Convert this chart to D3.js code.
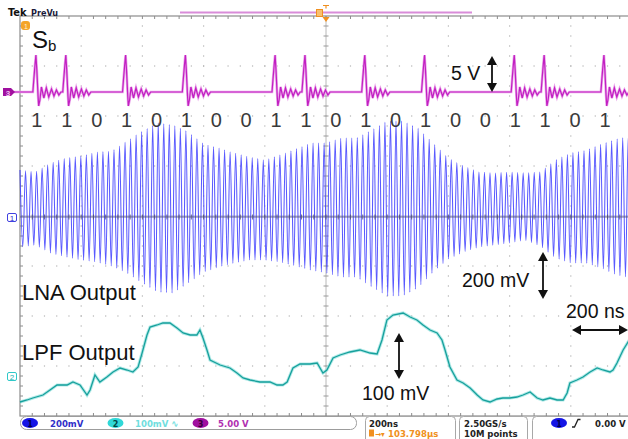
<!DOCTYPE html>
<html lang="en">
<head>
<meta charset="utf-8">
<title>Scope capture: Sb, LNA and LPF outputs</title>
<script src="https://cdn.jsdelivr.net/npm/d3@7"></script>
<style>
  html, body { margin: 0; padding: 0; background: #fff; }
  svg { display: block; font-family: "Liberation Sans", Arial, sans-serif; }
</style>
</head>
<body>
<script>
// bit pattern on Sb (channel 3)
var bits = [1, 1, 0, 1, 0, 1, 0, 0, 1, 1, 0, 1, 0, 1, 0, 0, 1, 1, 0, 1];
var bitStart = 52;      // ns, first bit
var bitPeriod = 97.7;   // ns

// Sb pulse shape around every "1" (ns from the peak, volts)
var pulseT = [-10, -7, -3, 0, 3, 7, 9, 13, 18, 26, 34, 42, 51, 59, 67, 75, 82];
var pulseV = [0, 1.2, 2.7, 3.7, 2.2, -0.4, -1.4, -0.8, 0.5, -0.6, 0.4, -0.5, 0.3, -0.4, 0.2, -0.3, 0];

// LNA output (channel 1): envelope every 50 ns, mV
var envT = d3.range(0, 2001, 50);
var lnaTop = [188, 180, 216, 236, 244, 260, 264, 304, 344, 376, 368, 340, 292, 276, 256, 240, 228, 248, 272, 296, 296,
              316, 316, 348, 384, 384, 356, 296, 236, 204, 180, 176, 180, 176, 180, 228, 256, 268, 292, 312, 324];
var lnaBot = [-120, -112, -144, -160, -172, -180, -196, -224, -264, -300, -304, -264, -220, -200, -184, -172, -172, -180, -196, -212, -224,
              -240, -240, -280, -316, -316, -284, -220, -168, -140, -120, -112, -104, -92, -116, -164, -184, -184, -204, -232, -244];
var carrierPeriod = 18.07; // ns

// LPF output (channel 2): ns, mV
var lpfT = [0, 23, 42, 75, 98, 121, 154, 173, 196, 219, 229, 245, 261, 284, 304, 327, 350, 369, 386, 399, 415, 425, 448, 467, 490,
            513, 533, 556, 578, 588, 598, 611, 621, 654, 686, 709, 729, 752, 784, 817, 840, 859, 873, 892, 915, 948, 971, 990,
            1003, 1023, 1046, 1078, 1111, 1144, 1167, 1183, 1199, 1219, 1252, 1275, 1297, 1317, 1340, 1363, 1379, 1389, 1405,
            1428, 1448, 1471, 1494, 1513, 1536, 1559, 1578, 1601, 1624, 1644, 1667, 1690, 1709, 1732, 1755, 1775, 1788, 1797,
            1820, 1840, 1863, 1886, 1905, 1928, 1938, 1951, 1971, 1987, 2000];
var lpfV = [-52, -48, -44, -38, -28, -18, -18, -12, -18, -38, -28, 2, -12, -2, 8, 16, 12, 8, 18, 46, 82, 98, 102, 106, 106,
            96, 86, 82, 82, 92, 76, 52, 32, 22, 16, 6, -4, -8, -12, -12, -18, -18, -12, 16, 24, 24, 26, 6,
            12, 36, 42, 48, 52, 46, 44, 72, 112, 122, 126, 118, 112, 102, 92, 86, 72, 52, 18,
            -8, -14, -24, -38, -48, -52, -46, -44, -44, -42, -38, -32, -44, -48, -44, -48, -48, -34, -14,
            -8, -2, 8, 16, 12, 8, 12, 26, 52, 68, 80];

var W = 628, H = 439;
var svg = d3.select("body").append("svg").attr("width", W).attr("height", H);

// screen: 10 x 200 ns horizontally, 8 divisions vertically
var x = d3.scaleLinear().domain([0, 2000]).range([20, 632]);
var gx = d3.scaleLinear().domain([0, 10]).range([20, 632]);
var gy = d3.scaleLinear().domain([0, 8]).range([16, 416]);
var y1 = d3.scaleLinear().domain([0, 200]).range([217, 167]);  // 200 mV/div
var y2 = d3.scaleLinear().domain([0, 100]).range([376, 326]);  // 100 mV/div
var y3 = d3.scaleLinear().domain([0, 5]).range([92, 42]);      // 5 V/div

// ---- graticule ----
var grid = svg.append("g");
d3.range(1, 10).filter(function(i) { return i !== 5; }).forEach(function(i) {
  grid.selectAll(null).data(d3.range(1, 40)).enter().append("rect")
    .attr("x", gx(i) - 0.6).attr("y", function(d) { return gy(d / 5) - 0.6; })
    .attr("width", 1.2).attr("height", 1.2).attr("fill", "#b4b4b4");
});
d3.range(1, 8).filter(function(i) { return i !== 4; }).forEach(function(i) {
  grid.selectAll(null).data(d3.range(1, 50)).enter().append("rect")
    .attr("x", function(d) { return gx(d / 5) - 0.6; }).attr("y", gy(i) - 0.6)
    .attr("width", 1.2).attr("height", 1.2).attr("fill", "#b4b4b4");
});
// center cross
grid.append("line").attr("x1", gx(5)).attr("x2", gx(5)).attr("y1", gy(0)).attr("y2", gy(8))
  .attr("stroke", "#b8b8b8").attr("stroke-width", 1);
grid.selectAll(null).data(d3.range(1, 40)).enter().append("line")
  .attr("x1", gx(5) - 2.5).attr("x2", gx(5) + 2.5)
  .attr("y1", function(d) { return gy(d / 5); }).attr("y2", function(d) { return gy(d / 5); })
  .attr("stroke", "#9a9a9a");
// border + ticks
grid.append("rect").attr("x", gx(0)).attr("y", gy(0)).attr("width", gx(10) - gx(0)).attr("height", gy(8) - gy(0))
  .attr("fill", "none").attr("stroke", "#8c8c8c").attr("stroke-width", 1.2);
grid.selectAll(null).data(d3.range(1, 40)).enter().append("line")
  .attr("x1", gx(0)).attr("x2", gx(0) + 3)
  .attr("y1", function(d) { return gy(d / 5); }).attr("y2", function(d) { return gy(d / 5); })
  .attr("stroke", "#8c8c8c");
grid.selectAll(null).data(d3.range(1, 50)).enter().append("line")
  .attr("x1", function(d) { return gx(d / 5); }).attr("x2", function(d) { return gx(d / 5); })
  .attr("y1", gy(0)).attr("y2", gy(0) + 3).attr("stroke", "#8c8c8c");
grid.selectAll(null).data(d3.range(1, 50)).enter().append("line")
  .attr("x1", function(d) { return gx(d / 5); }).attr("x2", function(d) { return gx(d / 5); })
  .attr("y1", gy(8)).attr("y2", gy(8) - 3).attr("stroke", "#8c8c8c");

// ---- channel 2: LPF output ----
var lpf = lpfT.map(function(t, i) { return { t: t, v: lpfV[i] }; });
var line2 = d3.line().x(function(d) { return x(d.t); }).y(function(d) { return y2(d.v); });
svg.append("path").datum(lpf).attr("d", line2).attr("fill", "none")
  .attr("stroke", "#7fdcd8").attr("stroke-width", 3.2).attr("opacity", 0.6);
svg.append("path").datum(lpf).attr("d", line2).attr("fill", "none")
  .attr("stroke", "#17a09c").attr("stroke-width", 1.3);

// ---- channel 1: LNA output ----
var topAt = d3.scaleLinear().domain(envT).range(lnaTop);
var botAt = d3.scaleLinear().domain(envT).range(lnaBot);
var carrier = [];
for (var k = 0; k * carrierPeriod / 2 <= 2000; k++) {
  var t = k * carrierPeriod / 2;
  carrier.push({ t: t, v: k % 2 === 0 ? topAt(t) : botAt(t) });
}
var line1 = d3.line().x(function(d) { return x(d.t); }).y(function(d) { return y1(d.v); })
  .curve(d3.curveMonotoneX);
svg.append("path").datum(carrier).attr("d", line1).attr("fill", "none")
  .attr("stroke", "#3c3cff").attr("stroke-width", 1.05).attr("opacity", 0.85);

// center horizontal line drawn over the trace
grid.append("line").attr("x1", gx(0)).attr("x2", gx(10)).attr("y1", gy(4)).attr("y2", gy(4))
  .attr("stroke", "#b8b8b8");
svg.append("line").attr("x1", gx(0)).attr("x2", gx(10)).attr("y1", y1(0)).attr("y2", y1(0))
  .attr("stroke", "#4a4a70").attr("stroke-width", 1).attr("opacity", 0.75);
svg.selectAll(null).data(d3.range(1, 50)).enter().append("line")
  .attr("x1", function(d) { return gx(d / 5); }).attr("x2", function(d) { return gx(d / 5); })
  .attr("y1", y1(0) - 2.5).attr("y2", y1(0) + 2.5).attr("stroke", "#4a4a70").attr("opacity", 0.75);

// ---- channel 3: Sb ----
var sb = [{ t: -20, v: 0 }];
bits.forEach(function(b, i) {
  if (!b) return;
  var t0 = bitStart + i * bitPeriod;
  pulseT.forEach(function(dt, j) { sb.push({ t: t0 + dt, v: pulseV[j] }); });
});
sb.push({ t: 2010, v: 0 });
var line3 = d3.line().x(function(d) { return x(d.t); }).y(function(d) { return y3(d.v); });
svg.append("path").datum(sb).attr("d", line3).attr("fill", "none")
  .attr("stroke", "#eaa6ea").attr("stroke-width", 2.6);
svg.append("path").datum(sb).attr("d", line3).attr("fill", "none")
  .attr("stroke", "#c21fc2").attr("stroke-width", 1.2);

// bit labels
svg.selectAll(null).data(bits).enter().append("text")
  .attr("x", function(d, i) { return x(bitStart + i * bitPeriod) + 1; })
  .attr("y", 127).attr("text-anchor", "middle")
  .attr("font-size", 20).attr("fill", "#3a3a3a")
  .text(function(d) { return d; });

// ---- channel markers ----
svg.append("path").attr("d", "M3,88 h8 l4,4 l-4,4 h-8 z").attr("fill", "#a0109f");
svg.append("text").attr("x", 8).attr("y", 95.5).attr("text-anchor", "middle").attr("font-size", 8)
  .attr("font-weight", "bold").attr("fill", "#f0c0f0").text("3");
svg.append("rect").attr("x", 7.5).attr("y", 213.5).attr("width", 9).attr("height", 8).attr("rx", 1.5)
  .attr("fill", "#fff").attr("stroke", "#4040e0");
svg.append("text").attr("x", 12).attr("y", 220.5).attr("text-anchor", "middle").attr("font-size", 8)
  .attr("fill", "#3030d0").text("1");
svg.append("rect").attr("x", 7.5).attr("y", 372.5).attr("width", 9).attr("height", 8).attr("rx", 1.5)
  .attr("fill", "#fff").attr("stroke", "#30c8c8");
svg.append("text").attr("x", 12).attr("y", 379.5).attr("text-anchor", "middle").attr("font-size", 8)
  .attr("fill", "#20b0b0").text("2");
svg.append("rect").attr("x", 21).attr("y", 21).attr("width", 9).attr("height", 9).attr("rx", 3)
  .attr("fill", "#f4a428");
svg.append("text").attr("x", 26).attr("y", 28.5).attr("text-anchor", "middle").attr("font-size", 7)
  .attr("fill", "#fff2d0").text("1");

// ---- header ----
svg.append("text").attr("x", 8).attr("y", 16).attr("font-family", "'DejaVu Sans Condensed', sans-serif")
  .attr("font-weight", "bold").attr("font-size", 11).attr("fill", "#111").text("Tek");
svg.append("text").attr("x", 31).attr("y", 15.5).attr("font-family", "'DejaVu Sans Condensed', sans-serif")
  .attr("font-weight", "bold").attr("font-size", 9).attr("fill", "#1a1a3a").text("PreVu");
svg.append("line").attr("x1", 180).attr("x2", 472).attr("y1", 12.5).attr("y2", 12.5)
  .attr("stroke", "#d98cd9").attr("stroke-width", 2);
svg.append("rect").attr("x", 316.5).attr("y", 9.5).attr("width", 6).attr("height", 7)
  .attr("fill", "#f7c070").attr("stroke", "#f09020");
svg.append("path").attr("d", "M323,5.5 h6 M326,5.5 v3").attr("stroke", "#f09020").attr("stroke-width", 1.2);
svg.append("path").attr("d", "M322.5,17 h7 l-3.5,5 z").attr("fill", "#f09020");

// ---- annotations ----
function arrowV(xp, ya, yb) {
  svg.append("line").attr("x1", xp).attr("x2", xp).attr("y1", ya + 7).attr("y2", yb - 7)
    .attr("stroke", "#111").attr("stroke-width", 1.8);
  svg.append("path").attr("d", "M" + xp + "," + ya + " l-5,9 h10 z").attr("fill", "#111");
  svg.append("path").attr("d", "M" + xp + "," + yb + " l-5,-9 h10 z").attr("fill", "#111");
}
function arrowH(xa, xb, yp) {
  svg.append("line").attr("x1", xa + 7).attr("x2", xb - 7).attr("y1", yp).attr("y2", yp)
    .attr("stroke", "#111").attr("stroke-width", 1.8);
  svg.append("path").attr("d", "M" + xa + "," + yp + " l9,-5 v10 z").attr("fill", "#111");
  svg.append("path").attr("d", "M" + xb + "," + yp + " l-9,-5 v10 z").attr("fill", "#111");
}
var sLabel = svg.append("text").attr("x", 32).attr("y", 48).attr("font-size", 24).attr("fill", "#111");
sLabel.append("tspan").text("S");
sLabel.append("tspan").attr("font-size", 15).attr("dy", 3).text("b");

svg.append("text").attr("x", 451).attr("y", 80).attr("font-size", 19.5).attr("fill", "#111").text("5 V");
arrowV(492, 56, 92);
svg.append("text").attr("x", 462).attr("y", 287).attr("font-size", 19.5).attr("fill", "#111").text("200 mV");
arrowV(543, 252, 299);
svg.append("text").attr("x", 22).attr("y", 300).attr("font-size", 22).attr("fill", "#111").text("LNA Output");
svg.append("text").attr("x", 22).attr("y", 360).attr("font-size", 22).attr("fill", "#111").text("LPF Output");
svg.append("text").attr("x", 566).attr("y", 318).attr("font-size", 19.5).attr("fill", "#111").text("200 ns");
arrowH(572, 628, 330);
svg.append("text").attr("x", 362).attr("y", 400).attr("font-size", 19.5).attr("fill", "#111").text("100 mV");
arrowV(399, 333, 379);

// ---- status bar ----
var sf = "'DejaVu Sans Condensed', sans-serif";
var bar = svg.append("g").attr("font-family", sf).attr("font-weight", "bold").attr("font-size", 9.5);
bar.append("rect").attr("x", 20.5).attr("y", 416.5).attr("width", 336).attr("height", 13).attr("rx", 6)
  .attr("fill", "#fff").attr("stroke", "#9c9c9c");
function badge(cx, fill, label, tfill) {
  bar.append("ellipse").attr("cx", cx).attr("cy", 423).attr("rx", 8).attr("ry", 5).attr("fill", fill);
  bar.append("text").attr("x", cx).attr("y", 426.5).attr("text-anchor", "middle").attr("font-size", 9)
    .attr("fill", tfill).text(label);
}
badge(30, "#1414e6", "1", "#000050");
bar.append("text").attr("x", 50).attr("y", 426.5).attr("fill", "#3030c8").text("200mV");
badge(115.5, "#30d8d8", "2", "#004848");
bar.append("text").attr("x", 135).attr("y", 426.5).attr("fill", "#70dede").text("100mV \u223F");
badge(200.5, "#a0109f", "3", "#3a003a");
bar.append("text").attr("x", 218).attr("y", 426.5).attr("fill", "#b030b0").text("5.00 V");

bar.append("rect").attr("x", 365.5).attr("y", 416.5).attr("width", 90).attr("height", 30).attr("rx", 4)
  .attr("fill", "#fff").attr("stroke", "#a8a8a8");
bar.append("text").attr("x", 369).attr("y", 426.5).attr("fill", "#222").text("200ns");
bar.append("rect").attr("x", 369).attr("y", 429.5).attr("width", 5).attr("height", 7).attr("fill", "#f09020");
bar.append("text").attr("x", 375).attr("y", 436.5).attr("fill", "#f09020").attr("font-size", 8).text("\u2192\u25BE");
bar.append("text").attr("x", 388).attr("y", 437).attr("fill", "#f09020").text("103.798\u00B5s");

bar.append("rect").attr("x", 459.5).attr("y", 416.5).attr("width", 68).attr("height", 30).attr("rx", 4)
  .attr("fill", "#fff").attr("stroke", "#a8a8a8");
bar.append("text").attr("x", 464).attr("y", 426.5).attr("fill", "#222").text("2.50GS/s");
bar.append("text").attr("x", 464).attr("y", 437).attr("fill", "#222").text("10M points");

bar.append("rect").attr("x", 532.5).attr("y", 416.5).attr("width", 110).attr("height", 30).attr("rx", 4)
  .attr("fill", "#fff").attr("stroke", "#a8a8a8");
badge(559, "#1414e6", "1", "#000050");
bar.append("path").attr("d", "M572,427 h2.5 l3.5,-7.5 h2.5").attr("fill", "none").attr("stroke", "#222")
  .attr("stroke-width", 1.3);
bar.append("text").attr("x", 595).attr("y", 426.5).attr("fill", "#222").text("0.00 V");
</script>
</body>
</html>
